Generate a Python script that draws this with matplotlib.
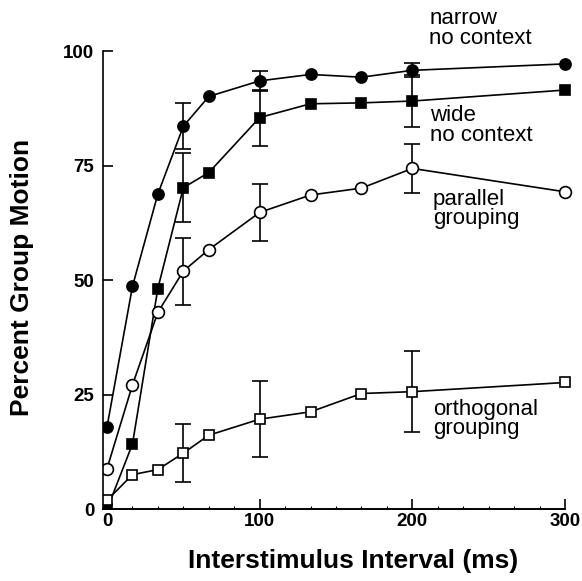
import numpy as np
import matplotlib
matplotlib.use("Agg")
import matplotlib.pyplot as plt
from matplotlib.ticker import MultipleLocator, FixedLocator

# Interstimulus intervals (ms) and percent group motion per condition
isi = [0, 16.7, 33.3, 50, 66.7, 100, 133.3, 166.7, 200, 300]
narrow = [18, 48.7, 68.8, 83.6, 90.1, 93.5, 94.9, 94.3, 95.8, 97.2]
wide = [0, 14.3, 48.2, 70.2, 73.5, 85.5, 88.5, 88.7, 89.1, 91.5]
parallel = [8.9, 27.2, 43.0, 52.0, 56.7, 64.8, 68.6, 70.1, 74.4, 69.3]
orthogonal = [2, 7.6, 8.7, 12.3, 16.2, 19.7, 21.3, 25.3, 25.7, 27.7]

# error bars only at 50, 100 and 200 ms
err_isi = [50, 100, 200]
narrow_err = [5.0, 2.2, 1.5]
wide_err = [7.5, 6.1, 5.6]
parallel_err = [7.3, 6.3, 5.3]
orthogonal_err = [6.4, 8.3, 8.9]

labels = ["narrow\nno context", "wide\nno context",
          "parallel\ngrouping", "orthogonal\ngrouping"]
label_pos = [(211, 109.3), (211.5, 88.2), (213.5, 70.0), (213.5, 24.2)]

plt.rcParams["font.family"] = ["Liberation Sans", "DejaVu Sans"]

fig = plt.figure(figsize=(5.82, 5.81), dpi=100)
ax = fig.add_axes([0.1773, 0.1231, 0.8197, 0.789])

series = [
    (narrow, narrow_err, dict(marker="o", ms=8, mfc="black")),
    (wide, wide_err, dict(marker="s", ms=7.5, mfc="black")),
    (parallel, parallel_err, dict(marker="o", ms=8.5, mfc="white")),
    (orthogonal, orthogonal_err, dict(marker="s", ms=7.5, mfc="white")),
]

for vals, err, style in series:
    idx = [isi.index(v) for v in err_isi]
    ax.errorbar(err_isi, [vals[i] for i in idx], yerr=err, fmt="none",
                ecolor="black", elinewidth=1.2, capsize=6, capthick=1.2,
                zorder=1)
    ax.plot(isi, vals, color="black", lw=1.2, mec="black", mew=1.2,
            zorder=2, **style)

for text, (x, y) in zip(labels, label_pos):
    ax.text(x, y, text, fontsize=16, ha="left", va="top", linespacing=0.9,
            clip_on=False)

ax.set_xlim(-2.5, 310)
ax.set_ylim(0, 100)
ax.spines["top"].set_visible(False)
ax.spines["right"].set_visible(False)
ax.spines["bottom"].set_bounds(-2.5, 300)
ax.spines["left"].set_linewidth(1.2)
ax.spines["bottom"].set_linewidth(1.4)

ax.xaxis.set_major_locator(FixedLocator([0, 100, 200, 300]))
ax.xaxis.set_minor_locator(MultipleLocator(100 / 6))
ax.yaxis.set_major_locator(FixedLocator([0, 25, 50, 75, 100]))

ax.tick_params(axis="y", direction="in", length=7.5, width=1.2, pad=6.5,
               labelsize=13.5)
ax.tick_params(axis="x", which="major", direction="in", length=7, width=1.2,
               pad=2.5, labelsize=13.5)
ax.tick_params(axis="x", which="minor", direction="in", length=2.5, width=0.8)
for lab in ax.get_xticklabels() + ax.get_yticklabels():
    lab.set_fontweight("bold")

fig.text(353 / 582, (581 - 568) / 581, "Interstimulus Interval (ms)",
         fontsize=19, fontweight="bold", ha="center", va="baseline")
fig.text(22 / 582, (581 - 277) / 581, "Percent Group Motion",
         fontsize=19, fontweight="bold", rotation=90, ha="center", va="center")

fig.savefig("out.png", dpi=100)
